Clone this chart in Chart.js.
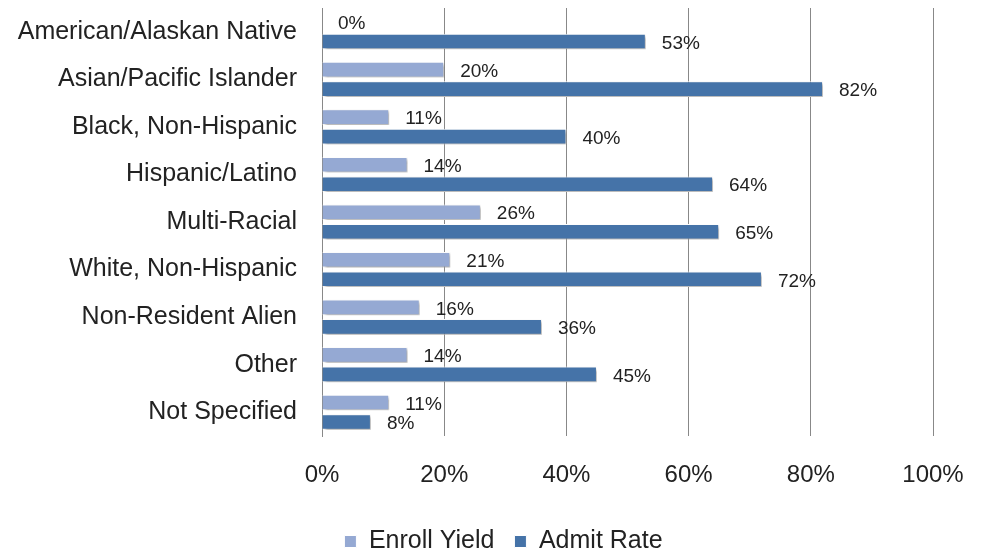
<!DOCTYPE html>
<html>
<head>
<meta charset="utf-8">
<script src="https://cdn.jsdelivr.net/npm/chart.js@4"></script>
<style>
  html, body { margin: 0; padding: 0; background: #fff; }
  #wrap { width: 981px; height: 552px; }
</style>
</head>
<body>
<div id="wrap"><canvas id="chart"></canvas></div>
<script>
const categories = [
  "American/Alaskan Native",
  "Asian/Pacific Islander",
  "Black, Non-Hispanic",
  "Hispanic/Latino",
  "Multi-Racial",
  "White, Non-Hispanic",
  "Non-Resident Alien",
  "Other",
  "Not Specified"
];
const enrollYield = [0, 20, 11, 14, 26, 21, 16, 14, 11];
const admitRate = [53, 82, 40, 64, 65, 72, 36, 45, 8];
const xTicks = [0, 20, 40, 60, 80, 100];

const FONT = '"Liberation Sans", sans-serif';

// soft shadow under the bars
const barShadow = {
  id: "barShadow",
  beforeDatasetDraw(chart) {
    const ctx = chart.ctx;
    ctx.save();
    ctx.shadowColor = "rgba(0,0,0,0.35)";
    ctx.shadowOffsetX = 2;
    ctx.shadowOffsetY = 2;
    ctx.shadowBlur = 3;
  },
  afterDatasetDraw(chart) {
    chart.ctx.restore();
  }
};

// value labels at the end of each bar
const valueLabels = {
  id: "valueLabels",
  afterDatasetsDraw(chart) {
    const ctx = chart.ctx;
    ctx.save();
    ctx.font = "19px " + FONT;
    ctx.fillStyle = "#222";
    ctx.textAlign = "left";
    ctx.textBaseline = "middle";
    chart.data.datasets.forEach((ds, i) => {
      chart.getDatasetMeta(i).data.forEach((bar, j) => {
        ctx.fillText(ds.data[j] + "%", bar.x + 16, bar.y + 2);
      });
    });
    ctx.restore();
  }
};

// nudge the legend box to where it sits in the original
const legendShift = {
  id: "legendShift",
  afterLayout(chart) {
    const lg = chart.legend;
    lg.left += 37; lg.right += 37;
    lg.top += 12; lg.bottom += 12;
  }
};

new Chart(document.getElementById("chart"), {
  type: "bar",
  data: {
    labels: categories,
    datasets: [
      {
        label: "Enroll Yield",
        data: enrollYield,
        backgroundColor: "#95a9d3",
        borderColor: "#ffffff",
        borderWidth: 1,
        categoryPercentage: 0.82,
        barPercentage: 0.8
      },
      {
        label: "Admit Rate",
        data: admitRate,
        backgroundColor: "#4573a8",
        borderColor: "#ffffff",
        borderWidth: 1,
        categoryPercentage: 0.82,
        barPercentage: 0.8
      }
    ]
  },
  options: {
    indexAxis: "y",
    responsive: true,
    maintainAspectRatio: false,
    animation: false,
    layout: { padding: { top: 8, right: 48, left: 0, bottom: 0 } },
    scales: {
      x: {
        min: 0,
        max: 100,
        afterBuildTicks(scale) {
          scale.ticks = xTicks.map(v => ({ value: v }));
        },
        afterFit(scale) {
          scale.height = 61;
          scale.paddingLeft = 0;
          scale.paddingRight = 0;
        },
        grid: { color: "#888", lineWidth: 1, drawTicks: false },
        border: { display: false },
        ticks: {
          padding: 25,
          color: "#222",
          font: { family: FONT, size: 24 },
          callback: v => v + "%"
        }
      },
      y: {
        afterFit(scale) {
          scale.width = 322;
          scale.paddingTop = 0;
          scale.paddingBottom = 0;
        },
        grid: { display: false },
        border: { display: true, color: "#888", width: 1 },
        ticks: {
          padding: 17,
          color: "#222",
          font: { family: FONT, size: 25 }
        }
      }
    },
    plugins: {
      legend: {
        position: "bottom",
        labels: {
          boxWidth: 12,
          boxHeight: 12,
          padding: 20,
          color: "#222",
          font: { family: FONT, size: 25 }
        }
      },
      tooltip: { enabled: false }
    }
  },
  plugins: [barShadow, valueLabels, legendShift]
});
</script>
</body>
</html>
